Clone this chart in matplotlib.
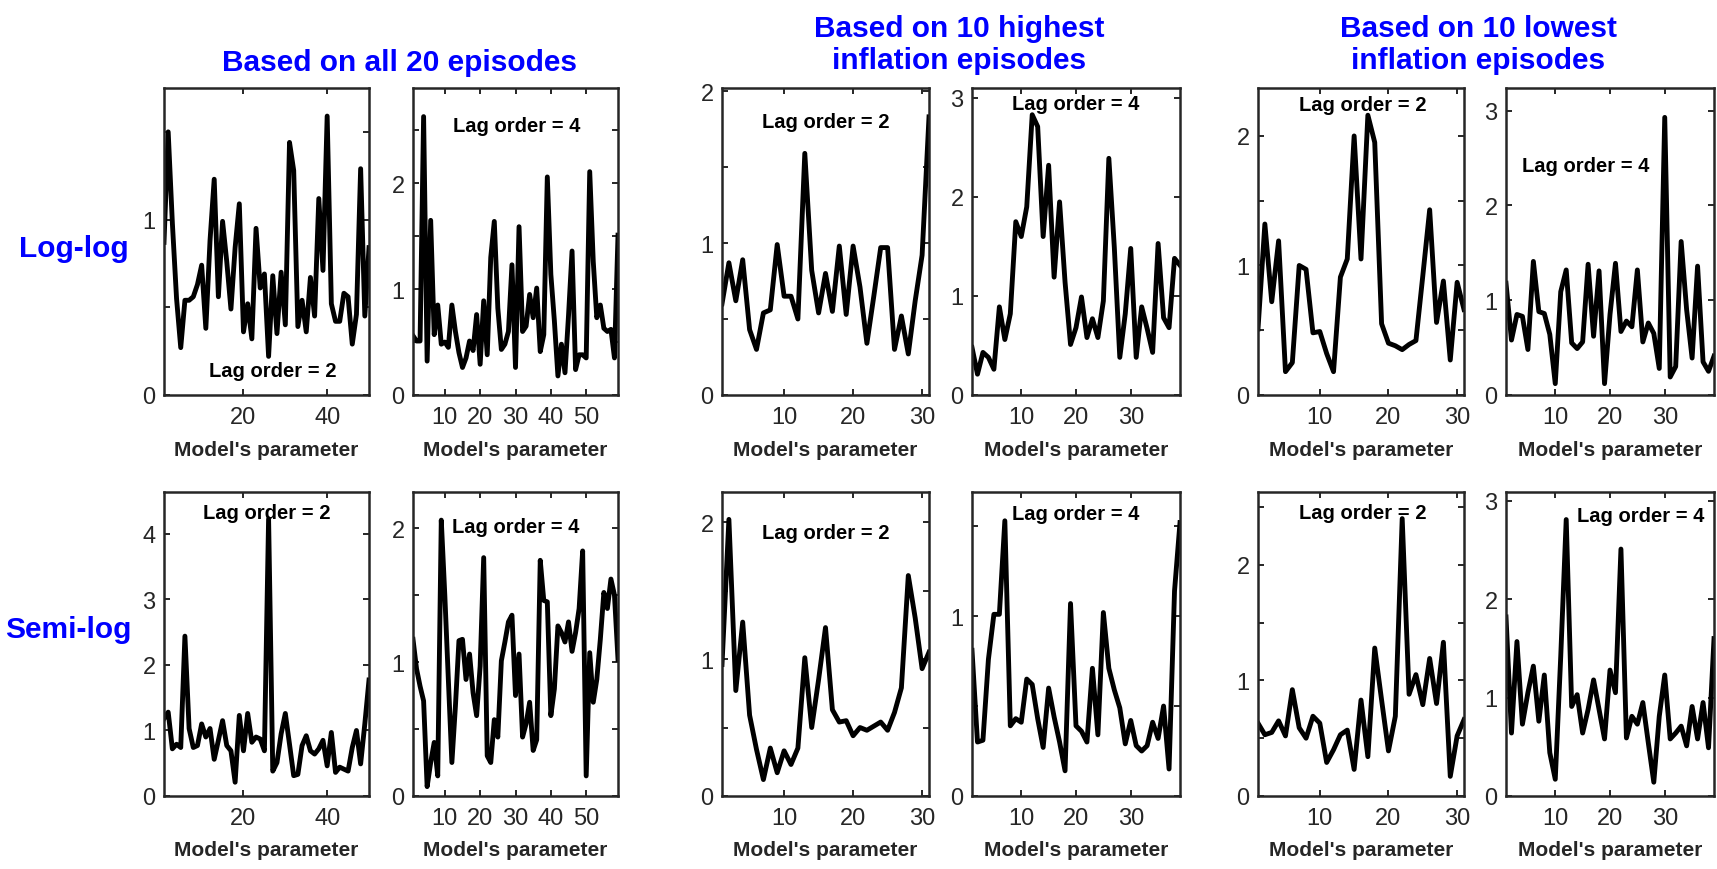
import numpy as np
import matplotlib
matplotlib.use("Agg")
import matplotlib.pyplot as plt

plt.rcParams['font.family'] = ['Liberation Sans', 'DejaVu Sans']

# ---------------------------------------------------------------------------
# data (one series per panel)
# ---------------------------------------------------------------------------
# Log-log, all 20 episodes
loglog_all_lag2 = [0.87, 1.50, 0.98, 0.55, 0.27, 0.54, 0.54, 0.56, 0.63, 0.74,
                   0.38, 0.88, 1.23, 0.56, 0.99, 0.76, 0.49, 0.84, 1.09, 0.36,
                   0.52, 0.32, 0.95, 0.61, 0.69, 0.22, 0.68, 0.35, 0.70, 0.40,
                   1.44, 1.28, 0.39, 0.54, 0.36, 0.67, 0.45, 1.12, 0.71, 1.59,
                   0.52, 0.42, 0.42, 0.58, 0.56, 0.29, 0.46, 1.29, 0.45, 0.84]
loglog_all_lag4 = [0.56, 0.51, 0.51, 2.63, 0.32, 1.65, 0.57, 0.85, 0.48, 0.50,
                   0.45, 0.85, 0.60, 0.40, 0.26, 0.35, 0.51, 0.42, 0.76, 0.29,
                   0.89, 0.38, 1.30, 1.64, 0.82, 0.43, 0.48, 0.60, 1.23, 0.26,
                   1.59, 0.60, 0.65, 0.95, 0.73, 1.01, 0.41, 0.57, 2.06, 1.14,
                   0.70, 0.18, 0.48, 0.21, 0.75, 1.36, 0.24, 0.38, 0.38, 0.35,
                   2.11, 1.26, 0.73, 0.85, 0.63, 0.60, 0.62, 0.35, 1.51]
# Log-log, 10 highest inflation episodes
loglog_high_lag2 = [0.60, 0.87, 0.62, 0.89, 0.43, 0.30, 0.54, 0.56, 0.99, 0.65,
                    0.65, 0.50, 1.59, 0.82, 0.54, 0.80, 0.55, 0.98, 0.53, 0.98,
                    0.71, 0.34, 0.65, 0.97, 0.97, 0.30, 0.52, 0.27, 0.62, 0.92,
                    1.83]
loglog_high_lag4 = [0.48, 0.21, 0.43, 0.38, 0.26, 0.89, 0.56, 0.82, 1.75, 1.60,
                    1.90, 2.83, 2.71, 1.60, 2.32, 1.19, 1.95, 1.14, 0.51, 0.68,
                    0.99, 0.58, 0.77, 0.58, 0.95, 2.39, 1.49, 0.38, 0.82, 1.48,
                    0.38, 0.89, 0.67, 0.43, 1.53, 0.78, 0.68, 1.38, 1.31]
# Log-log, 10 lowest inflation episodes
loglog_low_lag2 = [0.51, 1.32, 0.72, 1.19, 0.18, 0.25, 1.00, 0.97, 0.48, 0.49,
                   0.32, 0.18, 0.91, 1.05, 2.00, 1.05, 2.16, 1.95, 0.55, 0.40,
                   0.38, 0.35, 0.39, 0.42, 0.92, 1.43, 0.56, 0.88, 0.27, 0.87,
                   0.66]
loglog_low_lag4 = [1.18, 0.58, 0.85, 0.83, 0.48, 1.41, 0.88, 0.86, 0.64, 0.12,
                   1.09, 1.32, 0.55, 0.49, 0.56, 1.38, 0.62, 1.31, 0.12, 0.85,
                   1.39, 0.67, 0.78, 0.72, 1.32, 0.56, 0.76, 0.65, 0.28, 2.93,
                   0.19, 0.30, 1.62, 0.90, 0.39, 1.36, 0.35, 0.25, 0.41]

# Semi-log, all 20 episodes
semilog_all_lag2 = [1.18, 1.28, 0.72, 0.79, 0.74, 2.44, 1.03, 0.74, 0.77, 1.10,
                    0.90, 1.03, 0.56, 0.85, 1.15, 0.77, 0.69, 0.21, 1.23, 0.69,
                    1.26, 0.82, 0.90, 0.87, 0.69, 4.23, 0.38, 0.51, 0.95, 1.26,
                    0.79, 0.31, 0.33, 0.77, 0.92, 0.69, 0.64, 0.72, 0.85, 0.46,
                    0.97, 0.36, 0.44, 0.41, 0.38, 0.74, 1.00, 0.49, 1.10, 1.77]
semilog_all_lag4 = [1.17, 0.95, 0.82, 0.71, 0.07, 0.25, 0.40, 0.15, 2.06, 1.50,
                    0.87, 0.25, 0.67, 1.16, 1.17, 0.87, 1.06, 0.77, 0.60, 0.97,
                    1.78, 0.30, 0.25, 0.57, 0.44, 1.01, 1.15, 1.30, 1.35, 0.75,
                    1.06, 0.44, 0.54, 0.70, 0.34, 0.42, 1.76, 1.46, 1.45, 0.60,
                    0.80, 1.27, 1.22, 1.15, 1.30, 1.08, 1.22, 1.40, 1.83, 0.15,
                    1.07, 0.70, 0.87, 1.17, 1.52, 1.40, 1.62, 1.50, 1.02]
# Semi-log, 10 highest inflation episodes
semilog_high_lag2 = [0.96, 2.02, 0.77, 1.27, 0.59, 0.34, 0.12, 0.35, 0.17, 0.33,
                     0.23, 0.35, 1.01, 0.50, 0.85, 1.23, 0.63, 0.54, 0.55, 0.44,
                     0.50, 0.48, 0.51, 0.54, 0.48, 0.61, 0.79, 1.61, 1.30, 0.93,
                     1.05]
semilog_high_lag4 = [0.81, 0.30, 0.31, 0.76, 1.01, 1.01, 1.53, 0.39, 0.43, 0.41,
                     0.65, 0.62, 0.43, 0.27, 0.60, 0.44, 0.30, 0.14, 1.07, 0.39,
                     0.36, 0.30, 0.71, 0.34, 1.02, 0.71, 0.59, 0.49, 0.29, 0.42,
                     0.28, 0.25, 0.28, 0.41, 0.32, 0.50, 0.15, 1.14, 1.52]
# Semi-log, 10 lowest inflation episodes
semilog_low_lag2 = [0.63, 0.53, 0.55, 0.65, 0.52, 0.92, 0.59, 0.50, 0.69, 0.63,
                    0.29, 0.40, 0.53, 0.57, 0.23, 0.83, 0.34, 1.28, 0.83, 0.39,
                    0.69, 2.40, 0.88, 1.05, 0.79, 1.19, 0.80, 1.33, 0.17, 0.52,
                    0.66]
semilog_low_lag4 = [1.82, 0.64, 1.57, 0.73, 1.05, 1.32, 0.76, 1.23, 0.44, 0.17,
                    1.42, 2.81, 0.91, 1.03, 0.64, 0.88, 1.18, 0.88, 0.58, 1.28,
                    1.05, 2.51, 0.59, 0.81, 0.73, 0.95, 0.54, 0.14, 0.81, 1.23,
                    0.58, 0.64, 0.71, 0.51, 0.91, 0.58, 0.95, 0.49, 1.60]

col_titles = ["Based on all 20 episodes",
              "Based on 10 highest\ninflation episodes",
              "Based on 10 lowest\ninflation episodes"]
row_titles = ["Log-log", "Semi-log"]
lag_orders = [2, 4, 2, 4, 2, 4]

series = [[loglog_all_lag2, loglog_all_lag4, loglog_high_lag2,
           loglog_high_lag4, loglog_low_lag2, loglog_low_lag4],
          [semilog_all_lag2, semilog_all_lag4, semilog_high_lag2,
           semilog_high_lag4, semilog_low_lag2, semilog_low_lag4]]

# ---------------------------------------------------------------------------
# layout / per-panel settings
# ---------------------------------------------------------------------------
W, H = 1717, 870
col_px = [(164, 369), (413, 618), (722, 929), (972, 1180), (1258, 1464), (1506, 1714)]
row_px = [(89, 396), (493, 797)]

ymax = [[1.75, 2.9, 2.02, 3.1, 2.37, 3.24],
        [4.64, 2.27, 2.22, 1.69, 2.63, 3.09]]
ystep = [[0.5, 0.5, 0.5, 1, 0.5, 1],
         [1, 0.5, 0.5, 0.5, 0.5, 1]]
xticks = [[20, 40], [10, 20, 30, 40, 50], [10, 20, 30], [10, 20, 30],
          [10, 20, 30], [10, 20, 30]]
# where the "Lag order" note sits (axes fraction)
note_pos = [[(0.53, 0.08), (0.505, 0.877), (0.5, 0.89), (0.5, 0.95), (0.51, 0.947), (0.385, 0.746)],
            [(0.5, 0.934), (0.5, 0.885), (0.5, 0.868), (0.5, 0.93), (0.51, 0.934), (0.647, 0.924)]]

fig = plt.figure(figsize=(W / 100, H / 100), dpi=100)
frame_col = '#262626'

for r in range(2):
    for c in range(6):
        x0, x1 = col_px[c]
        t0, b0 = row_px[r]
        ax = fig.add_axes([x0 / W, 1 - b0 / H, (x1 - x0) / W, (b0 - t0) / H])
        y = np.array(series[r][c])
        x = np.arange(1, len(y) + 1)
        ax.plot(x, y, color='black', lw=3.5, solid_joinstyle='round')
        ax.set_xlim(1, len(y))
        ax.set_ylim(0, ymax[r][c])

        yt = np.arange(0, ymax[r][c] + 1e-9, ystep[r][c])
        ax.set_yticks(yt)
        ax.set_yticklabels([str(int(v)) if abs(v - round(v)) < 1e-9 else '' for v in yt])
        ax.set_xticks(xticks[c])

        ax.tick_params(direction='in', length=4, width=1.4, top=True, right=True,
                       colors=frame_col, labelsize=17)
        ax.tick_params(axis='x', pad=8)
        ax.tick_params(axis='y', pad=6)
        for s in ax.spines.values():
            s.set_linewidth(1.8)
            s.set_color(frame_col)

        ax.set_xlabel("Model's parameter", fontsize=15, fontweight='bold', color=frame_col)
        ax.xaxis.set_label_coords(0.5, -0.145)

        nx, ny = note_pos[r][c]
        ax.text(nx, ny, "Lag order = %d" % lag_orders[c], transform=ax.transAxes,
                ha='center', va='center', fontsize=14.5, fontweight='bold', color='black')

# column headers
fig.text(399 / W, 1 - 63 / H, col_titles[0], ha='center', va='center',
         fontsize=21.5, fontweight='bold', color='blue')
fig.text(959 / W, 1 - 45 / H, col_titles[1], ha='center', va='center',
         fontsize=21.5, fontweight='bold', color='blue')
fig.text(1478 / W, 1 - 45 / H, col_titles[2], ha='center', va='center',
         fontsize=21.5, fontweight='bold', color='blue')

# row headers
fig.text(74 / W, 1 - 249 / H, row_titles[0], ha='center', va='center',
         fontsize=21.5, fontweight='bold', color='blue')
fig.text(68 / W, 1 - 630 / H, row_titles[1], ha='center', va='center',
         fontsize=21.5, fontweight='bold', color='blue')

fig.savefig("out.png", dpi=100, facecolor='white')
